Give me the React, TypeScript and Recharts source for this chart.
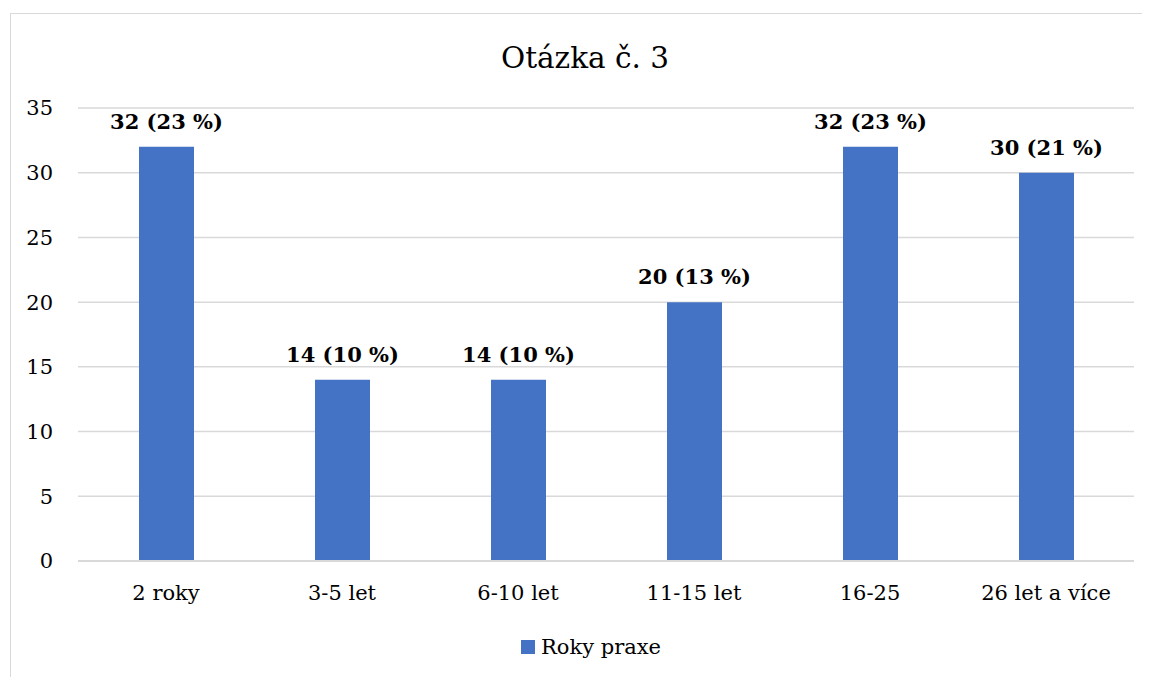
import React from "react";
import {
  BarChart,
  Bar,
  XAxis,
  YAxis,
  CartesianGrid,
  Legend,
  LabelList,
} from "recharts";

const categories = ["2 roky", "3-5 let", "6-10 let", "11-15 let", "16-25", "26 let a více"];
const counts = [32, 14, 14, 20, 32, 30];
const percents = [23, 10, 10, 13, 23, 21];
const yTicks = [0, 5, 10, 15, 20, 25, 30, 35];

const data = categories.map((name, i) => ({
  name,
  value: counts[i],
  label: `${counts[i]} (${percents[i]} %)`,
}));

const font = "'DejaVu Serif', serif";
const blue = "#4472C4";

const LegendBox = () => (
  <div
    style={{
      width: 1160,
      height: 30,
      display: "flex",
      justifyContent: "center",
      alignItems: "center",
      fontFamily: font,
      fontSize: 21,
      color: "#000",
    }}
  >
    <span style={{ width: 14, height: 14, background: blue, marginRight: 6 }} />
    <span>Roky praxe</span>
  </div>
);

// bold value label above each bar, no wrapping
const TopLabel = (props: any) => {
  const { x, y, width, value } = props;
  return (
    <text
      x={Number(x) + Number(width) / 2}
      y={Number(y) - 18}
      textAnchor="middle"
      fill="#000"
      fontSize={21}
      fontWeight="bold"
      fontFamily={font}
    >
      {value}
    </text>
  );
};

const App: React.FC = () => {
  return (
    <div
      style={{
        position: "relative",
        left: 2,
        top: 5,
        width: 1160,
        height: 680,
        border: "1px solid #d9d9d9",
        boxSizing: "border-box",
        background: "#fff",
        fontFamily: font,
      }}
    >
      <div
        style={{
          position: "absolute",
          top: 27,
          left: 0,
          width: 1148,
          textAlign: "center",
          fontFamily: font,
          fontSize: 29.5,
          lineHeight: "34px",
          color: "#000",
        }}
      >
        Otázka č. 3
      </div>
      <BarChart
        width={1150}
        height={664}
        data={data}
        margin={{ top: 94, right: 27, bottom: 27, left: 0 }}
        barSize={55}
        style={{ fontFamily: font }}
      >
        <CartesianGrid vertical={false} stroke="#d9d9d9" strokeWidth={1.5} />
        <XAxis
          dataKey="name"
          height={60}
          tickLine={false}
          tickSize={20}
          tickMargin={4}
          axisLine={{ stroke: "#d9d9d9", strokeWidth: 2 }}
          tick={{ fill: "#000", fontSize: 21, fontFamily: font }}
        />
        <YAxis
          width={67}
          domain={[0, 35]}
          ticks={yTicks}
          axisLine={false}
          tickLine={false}
          tickSize={22}
          tickMargin={3}
          tick={{ fill: "#000", fontSize: 21, fontFamily: font }}
        />
        <Legend
          verticalAlign="bottom"
          wrapperStyle={{ top: 618, left: 0 }}
          content={() => <LegendBox />}
        />
        <Bar dataKey="value" fill={blue} isAnimationActive={false}>
          <LabelList dataKey="label" content={TopLabel} />
        </Bar>
      </BarChart>
    </div>
  );
};

export default App;
